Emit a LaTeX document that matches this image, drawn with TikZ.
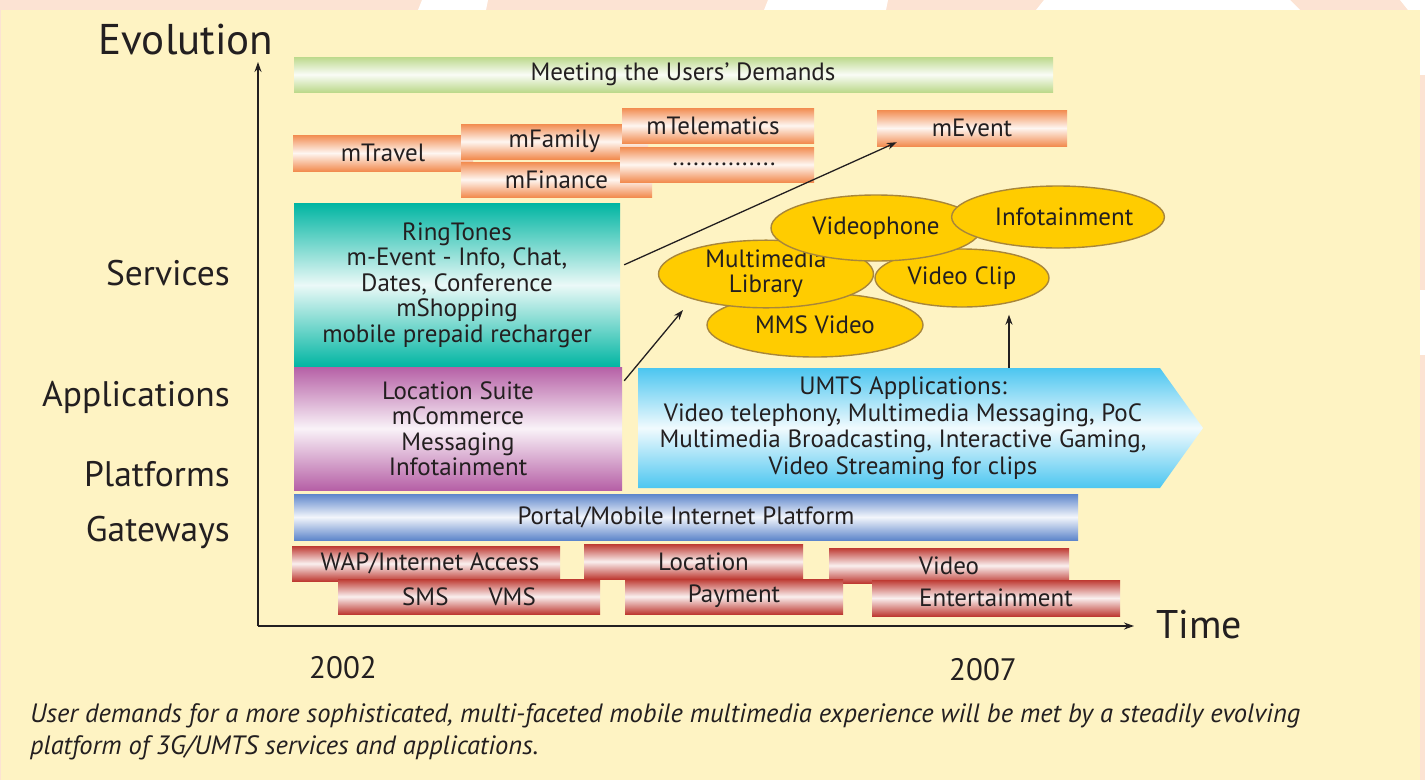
\documentclass[tikz,border=0pt]{standalone}
\usepackage{fontspec}
\setmainfont{PT Sans}
\usetikzlibrary{calc,arrows.meta,shapes.geometric}
\definecolor{bgpeach}{HTML}{FCE3D3}
\definecolor{panel}{HTML}{FEF3C3}
\definecolor{orng}{HTML}{F28C50}
\definecolor{grn}{HTML}{BCD98C}
\definecolor{tealb}{HTML}{00B5A2}
\definecolor{purp}{HTML}{B660A6}
\definecolor{portal}{HTML}{5E86CB}
\definecolor{redb}{HTML}{BE3A32}
\definecolor{cyanb}{HTML}{4CC6F0}
\definecolor{ellfill}{HTML}{FFCC00}
\definecolor{elldraw}{HTML}{A8863A}
\definecolor{txt}{HTML}{231F20}
\tikzset{
  hbar/.style={rectangle, inner sep=0pt, top color=#1, bottom color=#1, middle color=white!92!#1,
    text=txt, font=\fontsize{25}{25.5}\selectfont, align=center},
  sz/.style 2 args={minimum width=#1pt, minimum height=#2pt},
  ell/.style={ellipse, inner sep=0pt, fill=ellfill, draw=elldraw, line width=1.4pt,
    text=txt, font=\fontsize{25}{25}\selectfont, align=center},
  lbl/.style={text=txt, font=\fontsize{35.5}{38}\selectfont, inner sep=0pt},
  axis/.style={line width=1.4pt, txt, -{Stealth[length=10pt,width=7pt]}},
  conn/.style={line width=1.3pt, txt, -{Stealth[length=10pt,width=7pt]}},
}
\begin{document}
\begin{tikzpicture}[x=1pt,y=-1pt]
\useasboundingbox (0,0) rectangle (1425,780);
% background
\fill[bgpeach] (0,0) rectangle (1425,780);
\fill[white] (422,0) -- (488,0) -- (486,10) -- (418,10) -- cycle;
\fill[white] (768,0) -- (888,0) -- (886,10) -- (764,10) -- cycle;
\fill[white] (1044,0) -- (1290,0) -- (1300,10) -- (1036,10) -- cycle;
\fill[white] (1400,0) -- (1425,0) -- (1425,10) -- (1408,10) -- cycle;
\fill[white] (1420,0) rectangle (1425,75);
\fill[white] (1420,290) rectangle (1425,355);
\fill[panel] (1,10) rectangle (1420,780);

% axes
\coordinate (origin) at (258,626);
\coordinate (ytip) at (258,62);
\coordinate (xtip) at (1134,626);
\draw[axis] (origin) -- (ytip);
\draw[axis] (origin) -- (xtip);

\node[lbl, font=\fontsize{43}{46}\selectfont] (evolution) at (186,40) {Evolution};
\node[lbl, font=\fontsize{40}{44}\selectfont] (time) at (1199,625) {Time};
\node[lbl, anchor=east] (services) at (230,273) {Services};
\node[lbl, anchor=east] (applications) at (230,397) {Applications};
\node[lbl, anchor=east] (platforms) at (230,474) {Platforms};
\node[lbl, anchor=east] (gateways) at (230,532) {Gateways};
\node[lbl, font=\fontsize{31}{33}\selectfont] (y2002) at (343,668) {2002};
\node[lbl, font=\fontsize{31}{33}\selectfont] (y2007) at (983,670) {2007};

% top bars
\node[hbar=grn, sz={759}{35}] (meeting) at (673.5,74.5) {\hspace*{19pt}Meeting the Users' Demands};
\node[hbar=orng, sz={180}{36}] (mtravel) at (383,153) {mTravel};
\node[hbar=orng, sz={187}{35}] (mfamily) at (554.5,141.5) {mFamily};
\node[hbar=orng, sz={191}{35}] (mfinance) at (556.5,179.5) {mFinance};
\node[hbar=orng, sz={192}{35}] (mtelematics) at (718,125.5) {\hspace*{-10pt}mTelematics};
\node[hbar=orng, sz={194}{35}] (mdots) at (717,164.5) {\hspace*{14pt}...............};
\node[hbar=orng, sz={190}{36}] (mevent) at (972,128) {mEvent};

% services / applications boxes
\node[hbar=tealb, sz={326}{164}] (teal) at (457,285)
  {RingTones\\m-Event - Info, Chat,\\Dates, Conference\\mShopping\\mobile prepaid recharger};
\node[hbar=purp, sz={328}{123}] (purple) at (458,428.5)
  {Location Suite\\mCommerce\\Messaging\\Infotainment};

% UMTS arrow
\shade[top color=cyanb, bottom color=cyanb, middle color=white!92!cyanb]
  (638,368) -- (1160,368) -- (1203,428) -- (1160,488) -- (638,488) -- cycle;
\node[text=txt, font=\fontsize{25}{26.5}\selectfont, align=center, sz={522}{120}, inner sep=0pt]
  (umts) at (899,428)
  {\hspace*{8pt}UMTS Applications:\\\hspace*{8pt}Video telephony, Multimedia Messaging, PoC\\\hspace*{8pt}Multimedia Broadcasting, Interactive Gaming,\\\hspace*{8pt}Video Streaming for clips};

% portal and gateways
\node[hbar=portal, sz={784}{46}] (portalbar) at (686,517) {Portal/Mobile Internet Platform};
\node[hbar=redb, sz={268}{35}] (wap) at (426,563.5) {\hspace*{8pt}WAP/Internet Access};
\node[hbar=redb, sz={219}{35}] (location) at (693.5,561.5) {\hspace*{20pt}Location};
\node[hbar=redb, sz={240}{35}] (video) at (949,565.5) {Video};
\node[hbar=redb, sz={262}{35}] (smsvms) at (469,596.5) {SMS\hspace{40pt}VMS};
\node[hbar=redb, sz={218}{35}] (payment) at (734,596.5) {Payment};
\node[hbar=redb, sz={248}{36}] (entertainment) at (996,598) {Entertainment};

% ellipses
\node[ell, sz={216}{64}] (mmsvideo) at (815,325) {MMS Video};
\node[ell, sz={174}{58}] (vclip) at (962,278) {Video Clip};
\node[ell, sz={215}{67}] (mmlib) at (766,274) {Multimedia\\Library};
\node[ell, sz={210}{66}] (vphone) at (876,228) {Videophone};
\node[ell, sz={200}{62}] (infot) at (1058,217) {\hspace*{12pt}Infotainment};

% connectors
\coordinate (a1s) at ($(teal.north east)+(4,62)$);
\coordinate (a1e) at ($(mevent.south west)+(20,-4)$);
\draw[conn] (a1s) -- (a1e);
\coordinate (a2s) at ($(purple.north east)+(2,14)$);
\coordinate (a2e) at ($(mmlib.center)+(-83,36)$);
\draw[conn] (a2s) -- (a2e);
\coordinate (a3s) at ($(umts.north)+(110,0)$);
\coordinate (a3e) at ($(vclip.south)+(47,7)$);
\draw[conn] (a3s) -- (a3e);

% caption
\node[anchor=north west, align=left, inner sep=0pt, text=txt,
  font=\fontsize{26.5}{32}\selectfont\itshape] (caption) at (30,703)
  {User demands for a more sophisticated, multi-faceted mobile multimedia experience will be met by a steadily evolving\\
   platform of 3G/UMTS services and applications.};
\end{tikzpicture}
\end{document}
